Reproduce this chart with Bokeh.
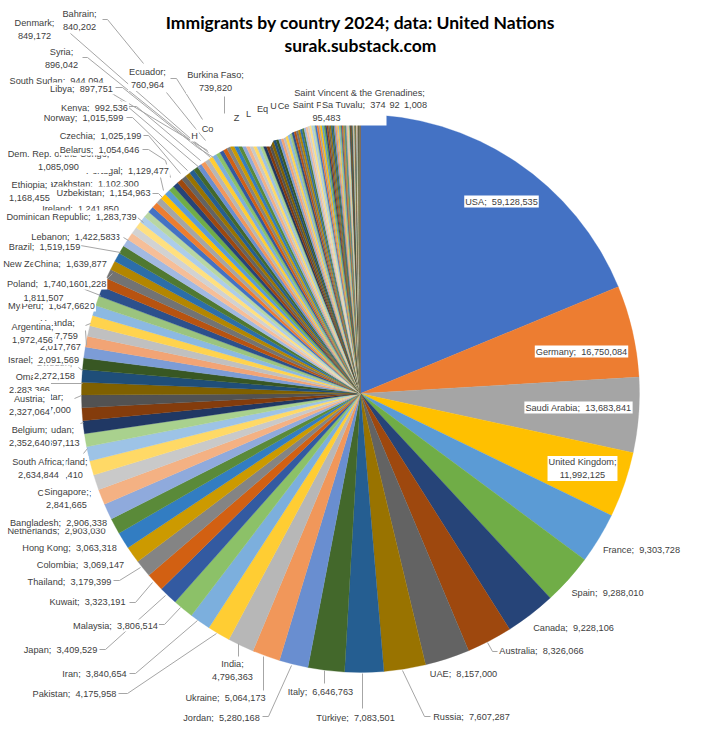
from math import pi
from bokeh.plotting import figure
from bokeh.models import Range1d, ColumnDataSource
from bokeh.core.properties import value
from bokeh.embed import file_html
from bokeh.resources import INLINE

countries = ["USA","Germany","Saudi Arabia","United Kingdom","France","Spain","Canada","Australia","UAE","Russia","Türkiye","Italy",
 "Jordan","Ukraine","India","Pakistan","Iran","Malaysia","Japan","Kuwait","Thailand","Colombia","Hong Kong","Bangladesh",
 "Netherlands","Singapore","Côte d'Ivoire","South Africa","Switzerland","Sudan","Belgium","Austria","Qatar","Oman","Sweden","Israel",
 "Chile","Argentina","Uganda","Egypt","Myanmar","Mexico","South Korea","New Zealand","Poland","Peru","China","Brazil",
 "Lebanon","Greece","Dominican Republic","Ireland","Ethiopia","Uzbekistan","Portugal","Kazakhstan","Dem. Rep. of the Congo","Belarus","Czechia","Norway",
 "Kenya","Chad","South Sudan","Libya","Syria","Cameroon","Denmark","Bahrain","Hungary","Congo","Ecuador","Burkina Faso"]
immigrants = [59128535,16750084,13683841,11992125,9303728,9288010,9228106,8326066,8157000,7607287,7083501,6646763,
 5280168,5064173,4796363,4175958,3840654,3806514,3409529,3323191,3179399,3069147,3063318,2906338,
 2903030,2841665,2761510,2634844,2610410,2397113,2352640,2327064,2327000,2283366,2272158,2091569,
 2017767,1972456,1947759,1902300,1851200,1811507,1751228,1745300,1740160,1647662,1639877,1519159,
 1422583,1352363,1283739,1241850,1168455,1154963,1129477,1102300,1085090,1054646,1025199,1015599,
 992536,961200,944094,897751,896042,871300,849172,840202,812400,786500,760964,739820]

small_countries = ["Costa Rica","Zimbabwe","Tanzania","Greenland","Niger","Luxembourg","Romania","Eq. Guinea","Mali","Uruguay","Central African Rep.","Guinea",
 "Ghana","Nigeria","Angola","Nepal","Serbia","Azerbaijan","Armenia","Croatia","Venezuela","Georgia","Finland","Mozambique","Senegal",
 "Togo","Benin","Gabon","Tajikistan","Turkmenistan","Kyrgyzstan","Moldova","Cyprus","Malta","Slovenia","Lithuania","Latvia","Estonia","Slovakia",
 "Bulgaria","Albania","Paraguay","Panama","Bolivia","Guatemala","Yemen","Afghanistan","Algeria","Morocco",
 "Tunisia","Mauritania","Somalia","Djibouti","Rwanda","Burundi","Malawi","Zambia","Namibia","Botswana","Liberia","Sierra Leone","Gambia",
 "Taiwan","Macao","Brunei","Maldives","Sri Lanka","Iraq","Cambodia","Laos","Vietnam","Philippines","Indonesia","Mongolia","Bhutan",
 "Trinidad & Tobago","Jamaica","Haiti","Honduras","El Salvador","Nicaragua","Guyana","Suriname","Belize","Bahamas","Barbados","Mauritius","Eswatini","Lesotho",
 "Saint Pierre & Miquelon","Iceland","Montenegro","North Macedonia","Bosnia & Herzegovina","Monaco","Andorra","Liechtenstein","San Marino","Guam","Puerto Rico","Aruba","Curaçao","Bermuda","Cayman Islands",
 "Fiji","Papua New Guinea","Solomon Islands","Vanuatu","Samoa","Tonga","Kiribati","Palau","Micronesia","Marshall Islands","Nauru","Comoros","Seychelles","Cabo Verde","Guinea-Bissau","São Tomé & Príncipe",
 "Eritrea","Madagascar","Timor-Leste","Dominica","Grenada","Saint Lucia","Saint Kitts & Nevis","Antigua & Barbuda","Saint Vincent & the Grenadines","Anguilla","Montserrat","Falkland Islands","Cook Islands","Niue","Tuvalu"]
small_immigrants = [722000,707000,689000,676000,663000,648000,637000,622000,606000,594000,578000,566000,
 551000,538000,526000,517000,506000,495000,484000,472000,463000,451000,442000,431000,420000,
 410000,402000,393000,385000,376000,368000,361000,354000,346000,339000,331000,324000,318000,311000,
 305000,298000,291000,285000,279000,273000,267000,261000,255000,249000,
 240000,228000,215000,204000,192000,181000,172000,163000,154000,146000,138000,131000,124000,
 118000,112000,106000,101000,97000,95483,91000,87000,83000,79000,75000,71000,68000,
 65000,62000,59000,56000,54000,52000,50000,48000,46000,44000,42000,40000,38500,37000,
 35500,34000,32500,31000,29500,28000,26500,25000,23800,22600,21500,20400,19300,18200,17100,
 16000,15000,14000,13000,12000,11000,10000,9200,8400,7600,6800,6100,5400,4800,4200,3700,
 3300,2900,2500,2200,1900,1700,1500,1350,1200,1100,4392,1008,800,600,500,374]

all_names = countries + small_countries
all_values = immigrants + small_immigrants

palette = [
 "#4472C4","#ED7D31","#A5A5A5","#FFC000","#5B9BD5","#70AD47",
 "#264478","#9E480E","#636363","#997300","#255E91","#43682B",
 "#698ED0","#F1975A","#B7B7B7","#FFCD33","#7CAFDD","#8CC168",
 "#335AA1","#D26012","#848484","#CC9A00","#327DC2","#5A8A39",
 "#8FAADC","#F4B183","#C9C9C9","#FFD966","#9DC3E6","#A9D18E",
 "#203864","#843C0C","#525252","#7F6000","#1F4E79","#385723",
 "#7C9CD6","#F2A475","#C0C0C0","#FFD34D","#8CB9E2","#9BC47E",
 "#2C508C","#B85310","#737373","#B38600","#2B6EAA","#507932",
 "#A2B9E2","#F6BE98","#D2D2D2","#FFE080","#ADCDEA","#B8D6A3"]

total = sum(all_values)
starts, ends, cum = [], [], 0
for v in all_values:
    starts.append(pi/2 - cum/total*2*pi)
    cum += v
    ends.append(pi/2 - cum/total*2*pi)
colors = [palette[i % len(palette)] for i in range(len(all_values))]

def Y(py):
    return 730 - py

p = figure(width=713, height=722, x_range=Range1d(0, 713), y_range=Range1d(8, 730),
           x_axis_type=None, y_axis_type=None, toolbar_location=None, output_backend="svg",
           min_border=0, outline_line_color=None, background_fill_color="white", border_fill_color="white")
p.grid.visible = False

n = len(all_values)
pie = ColumnDataSource(dict(x=[360]*n, y=[Y(393)]*n, r=[279]*n, s=starts, e=ends, c=colors, name=all_names, val=all_values))
p.wedge(x="x", y="y", radius="r", start_angle="s", end_angle="e", direction="clock",
        fill_color="c", line_color="c", line_width=0.3, source=pie)

# white area left by the label boxes over the top of the pie
mask = [(225,90),(225,146),(270,146),(273,140),(283,138),(292,132),(300,129),(310,125),(386,125),(386,90)]
p.patch([a for a, b in mask], [Y(b) for a, b in mask], fill_color="white", line_color=None)

leaders = [
 [(113,580),(119,580),(140,567)], [(129,602),(135,602),(152,582)], [(158,624),(164,624),(180,607)],
 [(99,649),(105,649),(165,595)], [(129,673),(135,673),(197,620)], [(118,693),(127,693),(216,633)],
 [(238,643),(238,656)], [(263,656),(263,690)], [(262,716),(268,716),(291,665)], [(324,670),(324,683)],
 [(362,673),(362,708)], [(402,670),(424,716),(430,716)], [(487,642),(492,651),(497,651)],
 [(102,19),(107,19),(143,63)], [(166,92),(195,128),(205,140)], [(70,33),(190,138),(208,152)], [(82,57),(87,57),(194,143),(210,157)],
 [(170,78),(176,78),(202,119)], [(115,87),(122,87),(197,147),(213,157)], [(128,106),(136,106),(200,160)],
 [(126,117),(132,117),(187,170)], [(143,135),(148,135),(180,173)], [(142,149),(148,149),(165,160),(170,177)],
 [(160,177),(163,190)], [(152,193),(158,193),(162,197)], [(137,217),(143,222)], [(123,237),(128,240)],
 [(80,245),(120,252)], [(107,278),(112,273)], [(82,288),(100,295)], [(85,325),(90,323)], [(85,330),(86,345)],
 [(78,367),(82,370)], [(50,383),(82,383)], [(74,398),(81,395)], [(80,423),(83,422)], [(83,453),(87,448)],
 [(224,96),(224,113)], [(120,100),(200,168)], [(98,85),(207,150)],
]
p.multi_line([[a for a, b in l] for l in leaders], [[Y(b) for a, b in l] for l in leaders],
             line_color="#A6A6A6", line_width=1)

# (country, centre x, centre y, two lines) in drawing order: later boxes hide earlier text
layout = [
 ("Bahrain",79,20,1),("Denmark",34,29,1),("Syria",61,58,1),("Ecuador",147,78,1),("Burkina Faso",215,81,1),
 ("South Sudan",56,80,0),("Libya",81,88,0),("Kenya",94,107,0),("Norway",83,117,0),("Czechia",100,135,0),
 ("Kazakhstan",90,183,0),("Portugal",127,170,0),("Dem. Rep. of the Congo",58,160,1),("Belarus",99,149,0),
 ("Ireland",80,208,0),("Uzbekistan",103,192,0),("Ethiopia",29,191,1),("Dominican Republic",71,216,0),
 ("Greece",80,236,0),("Brazil",44,246,0),("Lebanon",73,236,0),("New Zealand",54,263,0),("China",70,263,0),
 ("Myanmar",51,305,0),("Peru",55,305,0),("South Korea",56,283,0),("Mexico",43,291,1),("Poland",45,283,0),
 ("Chile",60,340,1),("Uganda",57,329,1),("Argentina",32,333,1),("Oman",29,383,1),("Sweden",54,369,1),("Israel",43,359,0),
 ("Qatar",50,403,1),("Austria",29,405,1),("Sudan",59,436,1),("Belgium",29,436,1),
 ("Switzerland",62,468,1),("South Africa",38,468,1),("Côte d'Ivoire",64,499,1),("Singapore",66,498,1),
 ("Netherlands",56,530,0),("Bangladesh",58,522,0),("Hong Kong",69,547,0),("Colombia",80,564,0),("Thailand",69,581,0),
 ("Kuwait",87,601,0),("Malaysia",115,625,0),("Japan",60,649,0),("Iran",94,673,0),("Pakistan",74,693,0),
 ("India",232,670,1),("Ukraine",225,697,0),("Jordan",221,717,0),("Italy",320,691,0),("Türkiye",355,717,0),
 ("Russia",471,716,0),("UAE",463,673,0),("Australia",541,650,0),("Canada",573,627,0),("Spain",607,592,0),("France",641,549,0),
 ("United Kingdom",582,468,1),("Saudi Arabia",578,407,0),("Germany",581,351,0),("USA",501,201,0),
]
lookup = dict(zip(all_names, all_values))
tx, ty, tt = [], [], []
for name, cx, cy, two in layout:
    tx.append(cx); ty.append(Y(cy))
    tt.append(f"{name};{chr(10) if two else chr(160) + ' '}{lookup[name]:,}")

# what stays visible of the labels buried near the top of the pie
frag_text = ["Co","H","Z","L","Eq","U","Ce","Saint Vincent & the Grenadines;","95,483","Saint P","Sa","Tuvalu;\u00a0 374","92","1,008"]
frag_x = [207,194,236,248,262,273,283,359,326,307,327,360,394,415]
frag_y = [128,135,117,113,108,105,105,92,117,104,104,104,104,104]
tx += frag_x; ty += [Y(v) for v in frag_y]; tt += frag_text

p.text(x=tx, y=ty, text=tt, text_align="center", text_baseline="middle",
       text_font=value("Liberation Sans"), text_font_size="9.2px", text_color="#404040",
       text_line_height=1.3, background_fill_color="white", padding=1)

p.text(x=[360,360], y=[Y(22),Y(45)], text=["Immigrants by country 2024; data: United Nations","surak.substack.com"],
       text_align="center", text_baseline="middle", text_font=value("Lato"), text_font_style="bold",
       text_font_size="17.5px", text_color="#000000")

open("out.html", "w").write(file_html(p, INLINE))
